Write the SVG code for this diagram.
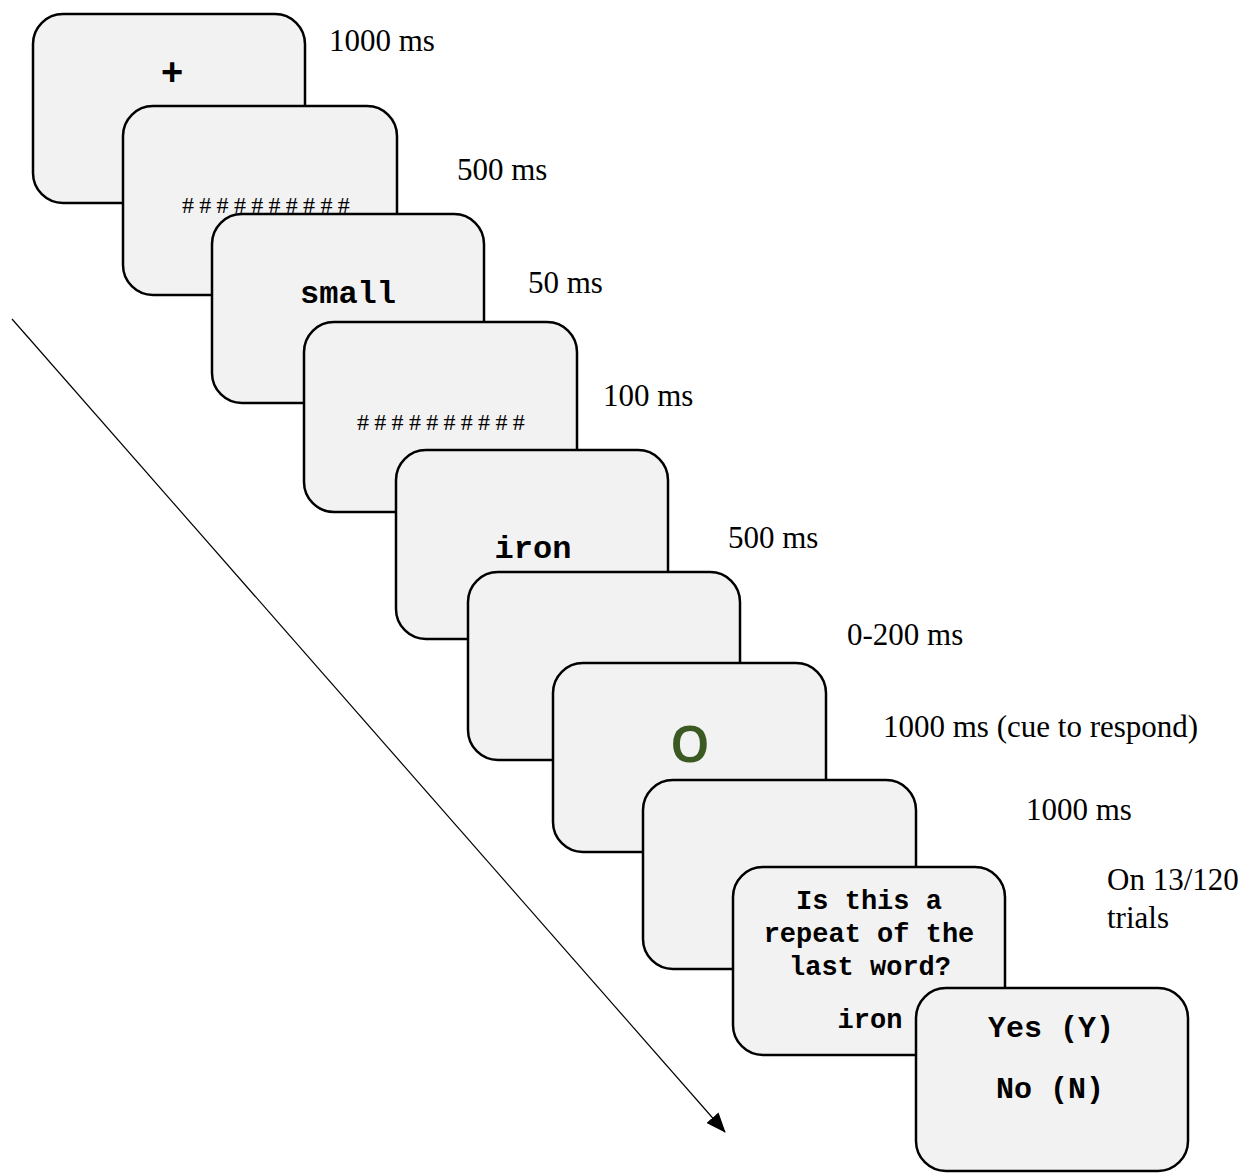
<svg xmlns="http://www.w3.org/2000/svg" width="1255" height="1174" viewBox="0 0 1255 1174">
  <style>
    .screen { fill: #f2f2f2; stroke: #000; stroke-width: 2.5; }
    .time { font-family: "Liberation Serif", "Times New Roman", serif; font-size: 31px; fill: #000; }
    .mono { font-family: "Liberation Mono", "Courier New", monospace; font-weight: bold; fill: #000; text-anchor: middle; }
    .mask { font-family: "Liberation Serif", "Times New Roman", serif; font-size: 24px; fill: #000; letter-spacing: 5.3px; }
  </style>
  <defs>
    <marker id="arrowhead" viewBox="0 0 20 16" refX="19" refY="8" markerWidth="20" markerHeight="16" markerUnits="userSpaceOnUse" orient="auto">
      <path d="M0,0 L20,8 L0,16 Z" fill="#000"/>
    </marker>
  </defs>

  <!-- time axis -->
  <g id="connectors">
    <line x1="12" y1="319" x2="725" y2="1132" stroke="#000" stroke-width="1.2" marker-end="url(#arrowhead)"/>
  </g>

  <!-- fixation -->
  <g id="screen-fixation">
    <rect class="screen" x="33" y="14" width="272" height="189" rx="30"/>
    <text x="172" y="85" font-family="Liberation Sans, Arial, sans-serif" font-weight="bold" font-size="38" text-anchor="middle">+</text>
  </g>
  <text class="time" x="329" y="51">1000 ms</text>

  <!-- forward mask -->
  <g id="screen-mask1">
    <rect class="screen" x="123" y="106" width="274" height="189" rx="30"/>
    <text class="mask" x="182" y="213">##########</text>
  </g>
  <text class="time" x="457" y="180">500 ms</text>

  <!-- prime -->
  <g id="screen-prime">
    <rect class="screen" x="212" y="214" width="272" height="189" rx="30"/>
    <text class="mono" x="348" y="303" font-size="32">small</text>
  </g>
  <text class="time" x="528" y="293">50 ms</text>

  <!-- backward mask -->
  <g id="screen-mask2">
    <rect class="screen" x="304" y="322" width="273" height="190" rx="30"/>
    <text class="mask" x="357" y="430">##########</text>
  </g>
  <text class="time" x="603" y="406">100 ms</text>

  <!-- target -->
  <g id="screen-target">
    <rect class="screen" x="396" y="450" width="272" height="189" rx="30"/>
    <text class="mono" x="533" y="558" font-size="32">iron</text>
  </g>
  <text class="time" x="728" y="548">500 ms</text>

  <!-- blank interval -->
  <g id="screen-blank1">
    <rect class="screen" x="468" y="572" width="272" height="188" rx="30"/>
  </g>
  <text class="time" x="847" y="645">0-200 ms</text>

  <!-- response cue -->
  <g id="screen-cue">
    <rect class="screen" x="553" y="663" width="273" height="189" rx="30"/>
    <text x="690" y="762" font-family="Noto Sans, Liberation Sans, sans-serif" font-weight="600" font-size="50" fill="#3b5a23" text-anchor="middle">O</text>
  </g>
  <text class="time" x="883" y="737" font-size="31.7">1000 ms (cue to respond)</text>

  <!-- blank -->
  <g id="screen-blank2">
    <rect class="screen" x="643" y="780" width="273" height="189" rx="30"/>
  </g>
  <text class="time" x="1026" y="820">1000 ms</text>

  <!-- repeat question -->
  <g id="screen-question">
    <rect class="screen" x="733" y="867" width="272" height="188" rx="30"/>
    <text class="mono" x="869" y="909" font-size="27">Is this a</text>
    <text class="mono" x="869" y="942" font-size="27">repeat of the</text>
    <text class="mono" x="870" y="975" font-size="27">last word?</text>
    <text class="mono" x="870" y="1028" font-size="27">iron</text>
  </g>
  <text class="time" x="1107" y="890">On 13/120</text>
  <text class="time" x="1107" y="928">trials</text>

  <!-- answer options -->
  <g id="screen-answer">
    <rect class="screen" x="916" y="988" width="272" height="183" rx="30"/>
    <text class="mono" x="1051" y="1037" font-size="30">Yes (Y)</text>
    <text class="mono" x="1050" y="1098" font-size="30">No (N)</text>
  </g>
</svg>
